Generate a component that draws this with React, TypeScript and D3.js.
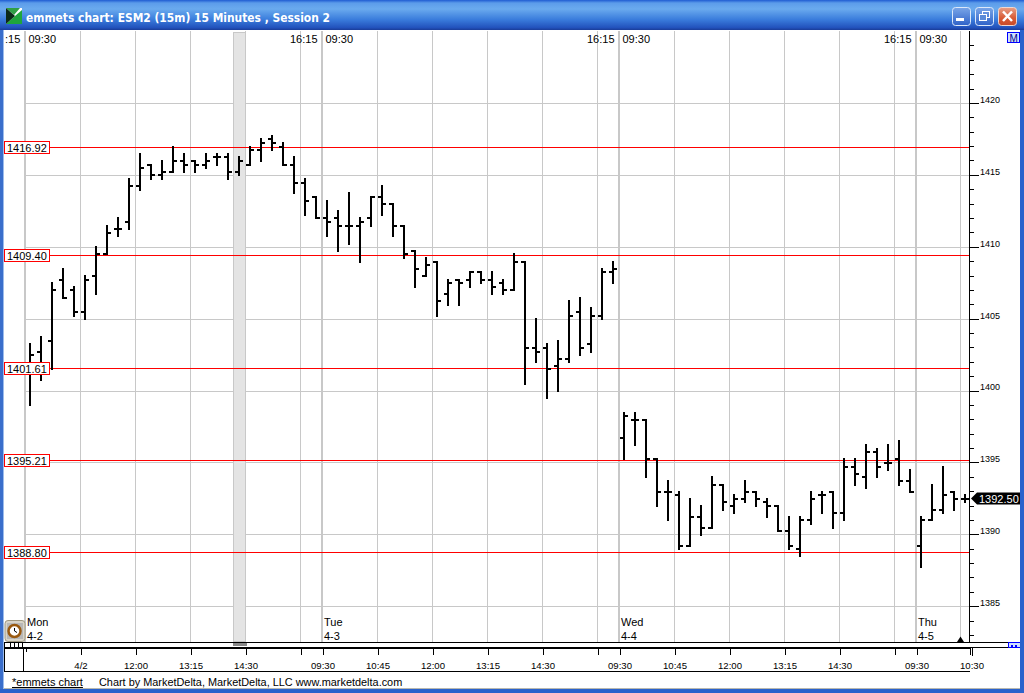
import React from "react";
import * as d3 from "d3";

const opens = [1401.5,1402.75,1403.5,1407.75,1407,1405.5,1408,1409.5,1411.25,1411.75,1414.25,1415.75,1415,1415.25,1416,1416,1415.75,1416.25,1416.25,1415.25,1415.75,1416.75,1417.5,1417,1415.75,1414.5,1413.5,1412,1412,1411.5,1411.5,1412,1413.5,1413,1411.5,1409.75,1408,1409,1406.75,1407.75,1407.75,1408.25,1407.75,1407.5,1407,1409,1403,1403,1401.75,1402.25,1405.5,1403.25,1405.25,1408.25,1396.75,1398,1398,1395.25,1393,1392.75,1389.25,1391.25,1390.5,1393.5,1392,1392.5,1393,1392.25,1392,1390.25,1389,1391,1392.75,1393,1391.5,1394.75,1394,1395.75,1395,1395.25,1393.75,1389.25,1391,1391.75,1393,1392.5];
const highs = [1403.25,1403.75,1407.5,1408.5,1407.25,1408,1410,1411.5,1412,1414.75,1416.5,1415.75,1416,1417,1416.5,1416,1416.5,1416.5,1416.5,1416.25,1417,1417.5,1417.75,1417.25,1416.25,1414.75,1413.5,1413.25,1412.5,1413.75,1412,1413.5,1414.25,1413,1411.5,1409.75,1409.25,1409,1407.75,1407.75,1408.25,1408.25,1408.25,1407.75,1409.5,1409,1405,1403.25,1403.5,1406.25,1406.5,1405.75,1408.5,1409,1398.5,1398.5,1398,1395.25,1393.75,1393,1392.5,1392,1394,1393.5,1392.75,1393.75,1393,1392.5,1392,1391.25,1391.25,1393,1393,1393,1395.25,1395.25,1396.25,1396,1396.25,1396.5,1394.5,1391.25,1393.5,1394.75,1393,1392.75];
const lows = [1399,1400.75,1401.5,1406.5,1405.25,1405,1406.75,1409.5,1410.75,1411.25,1414,1414.75,1414.75,1415.25,1415.25,1415.25,1415.5,1415.75,1414.75,1415,1415.75,1416,1416.75,1415.75,1413.75,1412.25,1412,1410.75,1409.75,1410.25,1409,1411.5,1412.25,1410.75,1409.25,1407.25,1408,1405.25,1406,1406,1407.25,1407.5,1406.75,1406.75,1407,1400.5,1402,1399.5,1400,1402,1402.5,1402.75,1405,1407.5,1395.25,1396.25,1394,1392,1391,1389,1389.25,1390,1390.5,1391.75,1391.5,1392.25,1392,1391.25,1390.25,1389,1388.5,1390.75,1391.5,1390.5,1391,1393.5,1393.25,1394,1394.5,1393.5,1393,1387.75,1391,1391.5,1391.75,1392.25];
const closes = [1402.5,1401.5,1407,1406.5,1405.5,1407.75,1409.5,1411,1411.25,1414.25,1415.5,1415,1415.25,1416,1415.75,1415.75,1416,1416.25,1415.25,1416,1416.75,1417.25,1417.25,1415.75,1414.5,1413.25,1412,1411.75,1411.5,1411.5,1411.75,1413.5,1413,1411.5,1409.5,1408.5,1408.75,1406.25,1407.5,1407.5,1408.25,1407.75,1407.25,1407,1409,1403,1402.75,1401.5,1402.25,1405.25,1403,1405.25,1408.25,1408.5,1398.25,1398,1395.25,1393,1393,1389.25,1391.25,1390.5,1393.5,1392.25,1392.5,1393,1392.5,1392,1390.25,1389.25,1391,1392.5,1392.75,1391.5,1394.75,1394.25,1395.75,1394.75,1395,1393.75,1393,1391,1391.75,1392.75,1392.5,1392.5];

const levels = [1416.92, 1409.4, 1401.61, 1395.21, 1388.8];
const priceTicks = [1385, 1390, 1395, 1400, 1405, 1410, 1415, 1420];
const minorTicks = d3.range(1383, 1425);
const thinGrid = [5, 10, 15, 20, 25, 32, 37, 42, 47, 52, 59, 64, 69, 74, 79, 85];
const heavyGrid = [0, 27, 54, 81];
const bandBar = 19;
const sessionOpenLabels = [
  { k: 0, t: "09:30" }, { k: 27, t: "09:30" }, { k: 54, t: "09:30" }, { k: 81, t: "09:30" },
];
const sessionCloseLabels = [{ k: 27 }, { k: 54 }, { k: 81 }];
const dayLabels = [
  { k: 0, day: "Mon", date: "4-2" }, { k: 27, day: "Tue", date: "4-3" },
  { k: 54, day: "Wed", date: "4-4" }, { k: 81, day: "Thu", date: "4-5" },
];
const timeTicks = [
  { k: 5, t: "4/2" }, { k: 10, t: "12:00" }, { k: 15, t: "13:15" }, { k: 20, t: "14:30" }, { k: 25, t: "" },
  { k: 27, t: "09:30" }, { k: 32, t: "10:45" }, { k: 37, t: "12:00" }, { k: 42, t: "13:15" }, { k: 47, t: "14:30" }, { k: 52, t: "" },
  { k: 54, t: "09:30" }, { k: 59, t: "10:45" }, { k: 64, t: "12:00" }, { k: 69, t: "13:15" }, { k: 74, t: "14:30" }, { k: 79, t: "" },
  { k: 81, t: "09:30" },
];
const lastTimeLabel = "10:30";
const titleText = "emmets chart: ESM2 (15m) 15 Minutes , Session 2";
const lastPrice = "1392.50";

const x = d3.scaleLinear().domain([0, 85]).range([30, 965]);
const y = d3.scaleLinear().domain([1420, 1385]).range([103.45, 606.75]);
const yLevel = d3.scaleLinear().domain([1420, 1385]).range([103.45, 607.1]);
const snap = (v: number) => Math.floor(v) + 0.5;
const FONT = "'Liberation Sans', Arial, sans-serif";
const GRID = "#c8c8c8";

export default function App() {
  const plotTop = 31;
  const plotBottom = 642;
  const right = 969.5;
  const bandL = x(bandBar) - 5.5;
  const bandR = x(bandBar + 1) - 4.5;
  return (
    <svg width={1024} height={693} viewBox="0 0 1024 693"
      style={{ position: "absolute", left: 0, top: 0, display: "block" }} fontFamily={FONT}>
      <defs>
        <linearGradient id="tb" x1="0" y1="0" x2="0" y2="1">
          <stop offset="0" stopColor="#1f5cd2" />
          <stop offset="0.1" stopColor="#5c9cea" />
          <stop offset="0.3" stopColor="#6aaaee" />
          <stop offset="0.65" stopColor="#3a7cdc" />
          <stop offset="0.92" stopColor="#2252bc" />
          <stop offset="1" stopColor="#1a3c98" />
        </linearGradient>
        <linearGradient id="btn" x1="0" y1="0" x2="0" y2="1">
          <stop offset="0" stopColor="#7aa6e8" />
          <stop offset="1" stopColor="#2f62c8" />
        </linearGradient>
        <linearGradient id="btnx" x1="0" y1="0" x2="0" y2="1">
          <stop offset="0" stopColor="#e8a088" />
          <stop offset="0.6" stopColor="#d85a34" />
          <stop offset="1" stopColor="#c84a28" />
        </linearGradient>
      </defs>
      <rect x={0} y={0} width={1024} height={693} fill="#ffffff" />

      {/* grid */}
      <g shapeRendering="crispEdges">
        {priceTicks.map((p) => (
          <line key={p} x1={25} x2={right} y1={snap(y(p))} y2={snap(y(p))} stroke={GRID} />
        ))}
        {thinGrid.map((k) => (
          <line key={k} x1={x(k) - 4.5} x2={x(k) - 4.5} y1={plotTop} y2={plotBottom} stroke={GRID} />
        ))}
        {heavyGrid.map((k) => (
          <rect key={k} x={x(k) - 6.5} y={plotTop} width={2.5} height={plotBottom - plotTop} fill={GRID} />
        ))}
        <rect x={bandL} y={32.5} width={bandR - bandL} height={plotBottom - 33} fill="#e4e4e4" stroke={GRID} />
      </g>

      {/* reference levels */}
      <g shapeRendering="crispEdges">
        {levels.map((v) => (
          <line key={v} x1={49} x2={right} y1={snap(yLevel(v))} y2={snap(yLevel(v))} stroke="#ff0000" />
        ))}
      </g>

      {/* OHLC bars */}
      <g stroke="#000000" strokeWidth={2} shapeRendering="crispEdges">
        {opens.map((o, i) => {
          const cx = x(i);
          return (
            <g key={i}>
              <line x1={cx} x2={cx} y1={y(highs[i]) - 1} y2={y(lows[i]) + 1} />
              <line x1={cx - 4} x2={cx} y1={y(o)} y2={y(o)} />
              <line x1={cx} x2={cx + 4} y1={y(closes[i])} y2={y(closes[i])} />
            </g>
          );
        })}
      </g>

      {/* level labels */}
      {levels.map((v) => (
        <g key={v}>
          <rect x={4.5} y={snap(yLevel(v)) - 6} width={45} height={12} fill="#ffffff" stroke="#ff0000" shapeRendering="crispEdges" />
          <text x={7} y={snap(yLevel(v)) + 4} fontSize={11} fill="#000">{v.toFixed(2)}</text>
        </g>
      ))}

      {/* session labels */}
      <g fontSize={11} fill="#000">
        <text x={5} y={43}>:15</text>
        {sessionOpenLabels.map((d) => (
          <text key={d.k} x={x(d.k) - 1.5} y={43}>{d.t}</text>
        ))}
        {sessionCloseLabels.map((d) => (
          <text key={d.k} x={x(d.k) - 37} y={43}>16:15</text>
        ))}
        {dayLabels.map((d) => (
          <g key={d.k}>
            <text x={x(d.k) - 3} y={626}>{d.day}</text>
            <text x={x(d.k) - 3} y={640}>{d.date}</text>
          </g>
        ))}
      </g>

      {/* price axis */}
      <g shapeRendering="crispEdges" stroke="#000">
        <line x1={right} x2={right} y1={plotTop} y2={plotBottom} />
        {minorTicks.filter((p) => !priceTicks.includes(p) && y(p) < plotBottom && y(p) > plotTop).map((p) => (
          <line key={p} x1={right} x2={973.5} y1={snap(y(p))} y2={snap(y(p))} />
        ))}
        {priceTicks.map((p) => (
          <line key={p} x1={right} x2={979} y1={snap(y(p))} y2={snap(y(p))} />
        ))}
      </g>
      <g fontSize={9} fill="#000">
        {priceTicks.map((p) => (
          <text key={p} x={980} y={y(p) - 0.6}>{p}</text>
        ))}
      </g>
      <path d="M971 498.5 L977 492.5 H1020 V504.5 H977 Z" fill="#000" />
      <text x={979} y={503} fontSize={11} fill="#fff">{lastPrice}</text>
      <rect x={1007.5} y={32.5} width={12} height={10} fill="#cfe0ff" stroke="#0000ff" shapeRendering="crispEdges" />
      <text x={1009.5} y={41.5} fontSize={10} fill="#00008a">M</text>
      <path d="M957 642 L960.5 636.5 L964 642 Z" fill="#000" />

      {/* time axis */}
      <rect x={4} y={643} width={1016} height={4} fill="#ffffff" />
      <g shapeRendering="crispEdges" stroke="#000">
        <line x1={4} x2={1008} y1={642.5} y2={642.5} />
        <line x1={4} x2={1020} y1={647.5} y2={647.5} />
        <line x1={4} x2={970} y1={648.5} y2={648.5} />
        <line x1={4} x2={970} y1={671.5} y2={671.5} />
        <line x1={4.5} x2={4.5} y1={643} y2={672} />
        <line x1={23.5} x2={23.5} y1={647} y2={672} />
        <line x1={970.5} x2={970.5} y1={647} y2={655} />
        <line x1={972.5} x2={972.5} y1={647} y2={656} />
        <line x1={26.5} x2={26.5} y1={648} y2={652} />
        <line x1={10.5} x2={10.5} y1={643} y2={647} />
        <line x1={14.5} x2={14.5} y1={643} y2={647} />
        <line x1={18.5} x2={18.5} y1={643} y2={647} />
        <line x1={22.5} x2={22.5} y1={643} y2={647} />
        {timeTicks.map((d) => (
          <line key={d.k} x1={x(d.k) - 3.5} x2={x(d.k) - 3.5} y1={648} y2={655} />
        ))}
      </g>
      <rect x={233} y={643} width={14} height={3} fill="#888" />
      <g fontSize={9.6} fill="#000" textAnchor="middle">
        {timeTicks.filter((d) => d.t).map((d) => (
          <text key={d.k} x={x(d.k) - 4} y={669}>{d.t}</text>
        ))}
        <text x={972} y={669}>{lastTimeLabel}</text>
      </g>
      <rect x={1008.5} y={642.5} width={12} height={5} fill="#cfe0ff" stroke="#0000ff" shapeRendering="crispEdges" />
      <rect x={1011} y={645} width={2} height={2} fill="#0000ff" />
      <rect x={1015} y={645} width={2} height={2} fill="#0000ff" />

      {/* clock button */}
      <rect x={5} y={620.5} width={20} height={21} rx={3} fill="#d8d4c8" stroke="#a09880" />
      <rect x={7} y={623} width={16} height={16} fill="#b8b8b8" />
      <circle cx={14.5} cy={631} r={6} fill="#fff" stroke="#9a5a10" strokeWidth={2.5} />
      <path d="M14.5 628 V631 L17 632.5" stroke="#000" fill="none" />

      {/* footer */}
      <text x={12} y={686} fontSize={11} fill="#000" textDecoration="underline">*emmets chart</text>
      <text x={99} y={686} fontSize={10.9} fill="#000">Chart by MarketDelta, MarketDelta, LLC www.marketdelta.com</text>

      {/* window frame */}
      <rect x={0} y={0} width={1024} height={30} fill="url(#tb)" />
      <rect x={0} y={30} width={3} height={663} fill="#3a6ecb" />
      <rect x={3} y={30} width={1} height={660} fill="#9cbcec" />
      <rect x={1020} y={30} width={4} height={663} fill="#2a62cc" />
      <rect x={0} y={689} width={1024} height={4} fill="#2a62cc" />
      <rect x={4} y={688} width={1016} height={1} fill="#b8b8b0" />
      <rect x={6} y={8} width={16} height={16} fill="#ffffff" />
      <path d="M6 8 H20 L14 15 Z" fill="#2f9f45" />
      <path d="M6 24 H22 V10 L15 16 Z" fill="#1fa53c" />
      <path d="M6 8 L15 16 L6 24 Z" fill="#0b2a18" />
      <text x={26} y={22} fontSize={13} fontWeight="bold" fill="#ffffff" fontFamily="'DejaVu Sans', sans-serif" textLength={304} lengthAdjust="spacingAndGlyphs">{titleText}</text>

      <rect x={952.5} y={7.5} width={18} height={18} rx={3} fill="url(#btn)" stroke="#dce8fa" />
      <rect x={956} y={18} width={8} height={3} fill="#fff" />
      <rect x={975.5} y={7.5} width={18} height={18} rx={3} fill="url(#btn)" stroke="#dce8fa" />
      <rect x={982.5} y={11.5} width={7} height={6} fill="none" stroke="#fff" />
      <rect x={979.5} y={14.5} width={7} height={6} fill="#5a8ad8" stroke="#fff" />
      <rect x={998.5} y={7.5} width={18} height={18} rx={3} fill="url(#btnx)" stroke="#f0d8d0" />
      <path d="M1003 11.5 L1012 21 M1012 11.5 L1003 21" stroke="#fff" strokeWidth={2.5} />
    </svg>
  );
}
